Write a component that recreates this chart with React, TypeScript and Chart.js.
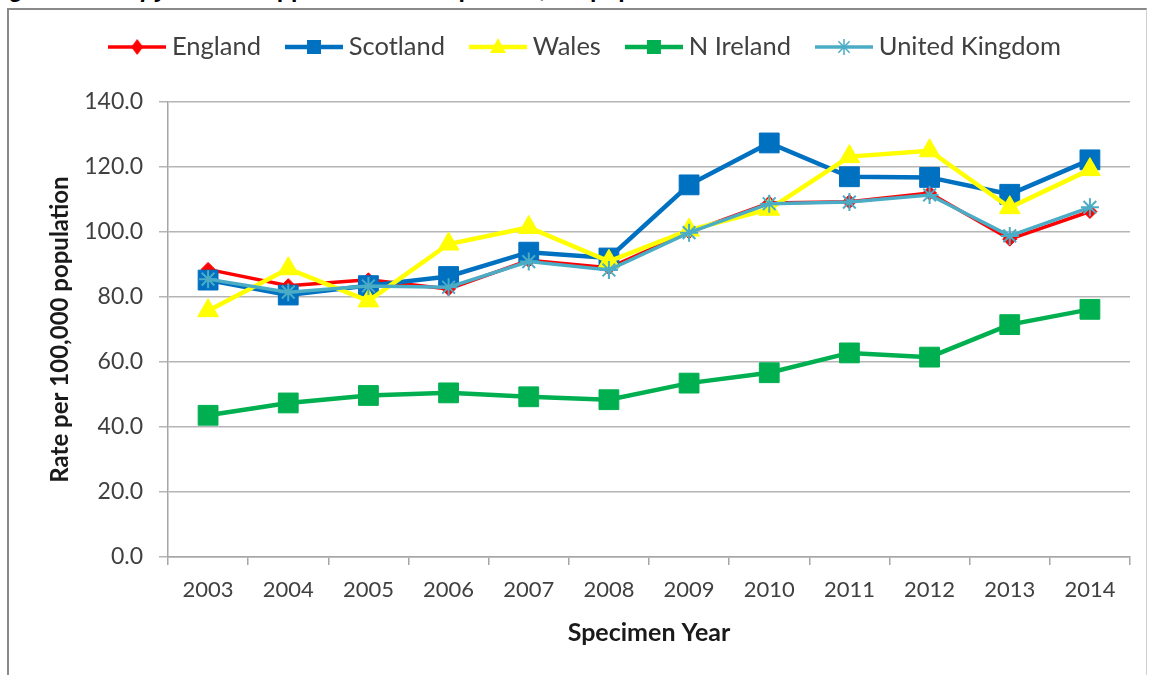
import React, { useEffect, useRef } from 'react';
import { Chart, registerables } from 'chart.js';

Chart.register(...registerables);

const years = ['2003', '2004', '2005', '2006', '2007', '2008', '2009', '2010', '2011', '2012', '2013', '2014'];
const england = [88.5, 83.5, 85.3, 82.5, 91.3, 89.0, 100.0, 108.9, 109.3, 112.0, 97.8, 106.3];
const scotland = [85.2, 80.6, 83.5, 86.3, 93.8, 92.0, 114.5, 127.4, 117.0, 116.8, 111.6, 122.2];
const wales = [75.8, 88.7, 78.8, 96.3, 101.4, 91.0, 100.6, 107.0, 123.2, 125.0, 107.5, 119.2];
const nIreland = [43.6, 47.4, 49.7, 50.5, 49.3, 48.4, 53.5, 56.7, 62.8, 61.5, 71.5, 76.2];
const unitedKingdom = [85.5, 81.5, 83.4, 83.0, 90.9, 88.3, 99.8, 108.7, 109.2, 111.4, 98.8, 107.6];

const seriesNames = ['England', 'Scotland', 'Wales', 'N Ireland', 'United Kingdom'];
const yMin = 0;
const yMax = 140;
const yStep = 20;

const FONT = 'Lato, "Open Sans", sans-serif';

function makeLegendImage(color: string, style: string, lineWidth: number): HTMLCanvasElement {
  const c = document.createElement('canvas');
  c.width = 58;
  c.height = 22;
  const ctx = c.getContext('2d')!;
  ctx.strokeStyle = color;
  ctx.fillStyle = color;
  ctx.lineWidth = lineWidth;
  ctx.beginPath();
  ctx.moveTo(0, 11);
  ctx.lineTo(58, 11);
  ctx.stroke();
  const cx = 29;
  const cy = 11;
  ctx.beginPath();
  if (style === 'rect') {
    ctx.rect(cx - 7, cy - 7, 14, 14);
    ctx.fill();
  } else if (style === 'rectRot') {
    ctx.moveTo(cx, cy - 8);
    ctx.lineTo(cx + 6, cy);
    ctx.lineTo(cx, cy + 8);
    ctx.lineTo(cx - 6, cy);
    ctx.closePath();
    ctx.fill();
  } else if (style === 'triangle') {
    ctx.moveTo(cx, cy - 9);
    ctx.lineTo(cx + 8, cy + 6);
    ctx.lineTo(cx - 8, cy + 6);
    ctx.closePath();
    ctx.fill();
  } else if (style === 'star') {
    ctx.lineWidth = 1.5;
    const r = 8;
    for (let k = 0; k < 4; k++) {
      const a = (k * Math.PI) / 4;
      ctx.moveTo(cx + Math.sin(a) * r, cy - Math.cos(a) * r);
      ctx.lineTo(cx - Math.sin(a) * r, cy + Math.cos(a) * r);
    }
    ctx.stroke();
  }
  return c;
}

export default function App() {
  const ref = useRef<HTMLCanvasElement>(null);

  useEffect(() => {
    const styles = [
      { color: '#FF0000', point: 'rectRot', radius: 7, width: 3.5 },
      { color: '#0070C0', point: 'rect', radius: 14, width: 4.5 },
      { color: '#FFFF00', point: 'triangle', radius: 12, width: 4.5 },
      { color: '#00B050', point: 'rect', radius: 14, width: 4.5 },
      { color: '#4BACC6', point: 'star', radius: 9, width: 3.5 },
    ];
    const values = [england, scotland, wales, nIreland, unitedKingdom];
    const legendImgs = styles.map((s) => makeLegendImage(s.color, s.point, s.width));

    const datasets = values.map((v, i) => ({
      label: seriesNames[i],
      data: v,
      borderColor: styles[i].color,
      backgroundColor: styles[i].color,
      borderWidth: styles[i].width,
      pointStyle: styles[i].point,
      pointRadius: styles[i].radius,
      pointBackgroundColor: styles[i].color,
      pointBorderColor: styles[i].color,
      pointBorderWidth: styles[i].point === 'star' ? 2 : 1,
      tension: 0,
      order: 5 - i,
    }));

    const chart = new Chart(ref.current!, {
      type: 'line',
      data: { labels: years, datasets },
      options: {
        animation: false,
        responsive: false,
        events: [],
        layout: { padding: { left: 46, right: 19, top: 3.25, bottom: 27 } },
        plugins: {
          tooltip: { enabled: false },
          legend: {
            position: 'top',
            align: 'center',
            labels: {
              usePointStyle: true,
              pointStyleWidth: 44,
              padding: 31,
              color: '#404040',
              font: { family: FONT, size: 25.5 },
              generateLabels: (ch: any) =>
                ch.data.datasets.map((ds: any, i: number) => ({
                  text: ds.label,
                  pointStyle: legendImgs[i],
                  fillStyle: ds.borderColor,
                  strokeStyle: ds.borderColor,
                  lineWidth: 0,
                  hidden: false,
                  datasetIndex: i,
                  fontColor: '#404040',
                })),
            },
          },
          title: {
            display: true,
            text: '',
            weight: 500,
            padding: { top: 0, bottom: 20.25 },
            font: { size: 10 },
          } as any,
        },
        scales: {
          x: {
            offset: true,
            grid: {
              display: true,
              offset: true,
              drawOnChartArea: false,
              drawTicks: true,
              tickLength: 8,
              color: '#a6a6a6',
              lineWidth: 1.5,
            },
            border: { color: '#a6a6a6', width: 1.5 },
            ticks: {
              font: { family: FONT, size: 22 },
              color: '#404040',
              padding: 12,
              maxRotation: 0,
              autoSkip: false,
            },
            title: {
              display: true,
              text: 'Specimen Year',
              font: { family: FONT, size: 25, weight: 'bold' },
              color: '#1a1a1a',
              padding: 0,
            },
            afterFit: (s: any) => {
              s.height = 91;
            },
          },
          y: {
            min: yMin,
            max: yMax,
            ticks: {
              stepSize: yStep,
              callback: (v: any) => Number(v).toFixed(1),
              font: { family: FONT, size: 23 },
              color: '#404040',
              padding: 16,
            },
            grid: { color: '#b5b5b5', lineWidth: 1.5, tickLength: 9 },
            border: { color: '#a6a6a6', width: 1.5 },
            title: {
              display: true,
              text: 'Rate per 100,000 population',
              font: { family: FONT, size: 24, weight: 'bold' },
              color: '#1a1a1a',
              padding: 0,
            },
            afterFit: (s: any) => {
              s.width = 122;
            },
          },
        },
      } as any,
    });
    return () => chart.destroy();
  }, []);

  return (
    <div
      style={{
        position: 'absolute',
        left: 0,
        top: 0,
        width: 1149,
        height: 675,
        overflow: 'hidden',
        background: '#fff',
      }}
    >
      <div
        style={{
          position: 'absolute',
          left: -12,
          top: -23,
          fontFamily: '"Liberation Sans", Arial, sans-serif',
          fontWeight: 'bold',
          fontSize: 23,
          lineHeight: '24px',
          whiteSpace: 'nowrap',
          color: '#000',
        }}
      >
        Figure 3: <i>Campylobacter</i> spp. isolates rate per 100,000 population
      </div>
      <div
        style={{
          position: 'absolute',
          left: 7,
          top: 8,
          width: 1137,
          height: 720,
          borderTop: '2px solid #8a8a8a',
          borderLeft: '2px solid #8a8a8a',
          borderRight: '1px solid #d0d0d0',
        }}
      />
      <canvas
        ref={ref}
        width={1149}
        height={675}
        style={{ position: 'absolute', left: 0, top: 0, width: 1149, height: 675 }}
      />
    </div>
  );
}
